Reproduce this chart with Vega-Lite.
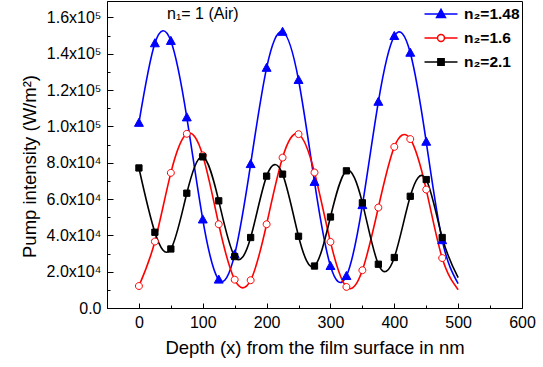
{
  "$schema": "https://vega.github.io/schema/vega-lite/v6.json",
  "width": 415,
  "height": 307,
  "autosize": "none",
  "padding": {"left": 107, "top": 1, "right": 21, "bottom": 59},
  "background": "white",
  "config": {
    "view": {"stroke": "black", "strokeWidth": 1},
    "font": "Liberation Sans",
    "axis": {"grid": false, "domainColor": "black", "tickColor": "black", "labelColor": "black", "titleColor": "black", "titleFontWeight": "normal", "labelFont": "Liberation Sans", "titleFont": "Liberation Sans", "labelOverlap": false}
  },
  "resolve": {"axis": {"x": "independent", "y": "independent"}},
  "datasets": {
    "d": [
      {"s": "1.48", "x": 0, "y": 101900, "mk": true},
      {"s": "1.48", "x": 25, "y": 145700, "mk": true},
      {"s": "1.48", "x": 50, "y": 147000, "mk": true},
      {"s": "1.48", "x": 75, "y": 104900, "mk": true},
      {"s": "1.48", "x": 100, "y": 48700, "mk": true},
      {"s": "1.48", "x": 125, "y": 15600, "mk": true},
      {"s": "1.48", "x": 150, "y": 29500, "mk": true},
      {"s": "1.48", "x": 175, "y": 79200, "mk": true},
      {"s": "1.48", "x": 200, "y": 132200, "mk": true},
      {"s": "1.48", "x": 225, "y": 152000, "mk": true},
      {"s": "1.48", "x": 250, "y": 125500, "mk": true},
      {"s": "1.48", "x": 275, "y": 69400, "mk": true},
      {"s": "1.48", "x": 300, "y": 23100, "mk": true},
      {"s": "1.48", "x": 325, "y": 17600, "mk": true},
      {"s": "1.48", "x": 350, "y": 56600, "mk": true},
      {"s": "1.48", "x": 375, "y": 113500, "mk": true},
      {"s": "1.48", "x": 400, "y": 149700, "mk": true},
      {"s": "1.48", "x": 425, "y": 140500, "mk": true},
      {"s": "1.48", "x": 450, "y": 91500, "mk": true},
      {"s": "1.48", "x": 475, "y": 37300, "mk": true},
      {"s": "1.48", "x": 500, "y": 13400, "mk": false},
      {"s": "1.6", "x": 0, "y": 12100, "mk": true},
      {"s": "1.6", "x": 25, "y": 36600, "mk": true},
      {"s": "1.6", "x": 50, "y": 74400, "mk": true},
      {"s": "1.6", "x": 75, "y": 95900, "mk": true},
      {"s": "1.6", "x": 100, "y": 84000, "mk": true},
      {"s": "1.6", "x": 125, "y": 46100, "mk": true},
      {"s": "1.6", "x": 150, "y": 15600, "mk": true},
      {"s": "1.6", "x": 175, "y": 15300, "mk": true},
      {"s": "1.6", "x": 200, "y": 46100, "mk": true},
      {"s": "1.6", "x": 225, "y": 82800, "mk": true},
      {"s": "1.6", "x": 250, "y": 95700, "mk": true},
      {"s": "1.6", "x": 275, "y": 74600, "mk": true},
      {"s": "1.6", "x": 300, "y": 36400, "mk": true},
      {"s": "1.6", "x": 325, "y": 11600, "mk": true},
      {"s": "1.6", "x": 350, "y": 20800, "mk": true},
      {"s": "1.6", "x": 375, "y": 55300, "mk": true},
      {"s": "1.6", "x": 400, "y": 88700, "mk": true},
      {"s": "1.6", "x": 425, "y": 93000, "mk": true},
      {"s": "1.6", "x": 450, "y": 65200, "mk": true},
      {"s": "1.6", "x": 475, "y": 27500, "mk": true},
      {"s": "1.6", "x": 500, "y": 10100, "mk": false},
      {"s": "2.1", "x": 0, "y": 77100, "mk": true},
      {"s": "2.1", "x": 25, "y": 41700, "mk": true},
      {"s": "2.1", "x": 50, "y": 32500, "mk": true},
      {"s": "2.1", "x": 75, "y": 63200, "mk": true},
      {"s": "2.1", "x": 100, "y": 83200, "mk": true},
      {"s": "2.1", "x": 125, "y": 59000, "mk": true},
      {"s": "2.1", "x": 150, "y": 28300, "mk": true},
      {"s": "2.1", "x": 175, "y": 38800, "mk": true},
      {"s": "2.1", "x": 200, "y": 72600, "mk": true},
      {"s": "2.1", "x": 225, "y": 73700, "mk": true},
      {"s": "2.1", "x": 250, "y": 39500, "mk": true},
      {"s": "2.1", "x": 275, "y": 23100, "mk": true},
      {"s": "2.1", "x": 300, "y": 50100, "mk": true},
      {"s": "2.1", "x": 325, "y": 75500, "mk": true},
      {"s": "2.1", "x": 350, "y": 57900, "mk": true},
      {"s": "2.1", "x": 375, "y": 24100, "mk": true},
      {"s": "2.1", "x": 400, "y": 27800, "mk": true},
      {"s": "2.1", "x": 425, "y": 61500, "mk": true},
      {"s": "2.1", "x": 450, "y": 70700, "mk": true},
      {"s": "2.1", "x": 475, "y": 38800, "mk": true},
      {"s": "2.1", "x": 500, "y": 16700, "mk": false}
    ],
    "note": [{"x": 44, "y": 161800, "t": "n₁= 1 (Air)"}]
  },
  "layer": [
    {
      "data": {"name": "d"},
      "mark": {"type": "line", "interpolate": "natural", "strokeWidth": 1.6},
      "encoding": {
        "x": {
          "field": "x", "type": "quantitative",
          "scale": {"domain": [-50, 600], "nice": false, "zero": false},
          "axis": {
            "orient": "bottom",
            "values": [0, 100, 200, 300, 400, 500, 600],
            "format": "d",
            "tickSize": -5,
            "labelPadding": 11.5,
            "labelFontSize": 16,
            "labelFlush": false,
            "labelOverlap": false,
            "title": "Depth (x) from the film surface in nm",
            "titleFontSize": 18.5,
            "titlePadding": 8
          }
        },
        "y": {
          "field": "y", "type": "quantitative",
          "scale": {"domain": [0, 169000], "nice": false},
          "axis": {
            "orient": "left",
            "values": [0, 20000, 40000, 60000, 80000, 100000, 120000, 140000, 160000],
            "labelExpr": "datum.value === 0 ? '0.0' : (datum.value >= 100000 ? format(datum.value / 100000, '.1f') + 'x10⁵' : format(datum.value / 10000, '.1f') + 'x10⁴')",
            "tickSize": -6,
            "labelPadding": 12,
            "labelFontSize": 16,
            "labelFlush": false,
            "labelOverlap": false,
            "labelBound": false,
            "title": "Pump intensity (W/m²)",
            "titleFontSize": 18.5,
            "titleBaseline": "middle",
            "titleX": -78,
            "titleY": 165
          }
        },
        "color": {
          "field": "s", "type": "nominal",
          "scale": {"domain": ["1.48", "1.6", "2.1"], "range": ["#0000ff", "#ff0000", "#000000"]},
          "legend": {
            "orient": "none", "legendX": 325, "legendY": 4, "title": null, "padding": 0,
            "symbolType": "M-2,0H2", "symbolSize": 272, "symbolStrokeWidth": 1.5,
            "labelExpr": "'n₂=' + datum.label", "labelOpacity": 0,
            "labelFont": "Liberation Sans", "labelFontSize": 15.5, "labelFontWeight": "bold",
            "labelOffset": 14, "rowPadding": 6
          }
        }
      }
    },
    {
      "data": {"name": "d"},
      "transform": [{"filter": "datum.mk"}],
      "mark": {"type": "point", "size": 272, "strokeWidth": 1, "opacity": 1, "fillOpacity": 1, "strokeOpacity": 1},
      "encoding": {
        "x": {"field": "x", "type": "quantitative", "axis": {"orient": "bottom", "values": [50, 150, 250, 350, 450, 550], "tickSize": -3, "labels": false, "domain": false, "title": null, "grid": false}},
        "y": {"field": "y", "type": "quantitative", "axis": {"orient": "left", "values": [10000, 30000, 50000, 70000, 90000, 110000, 130000, 150000], "tickSize": -3, "labels": false, "domain": false, "title": null, "grid": false}},
        "shape": {
          "field": "s", "type": "nominal",
          "scale": {"range": [
            "M0,-0.56L0.54,0.42L-0.54,0.42Z",
            "M-0.42,0A0.42,0.42 0 1,0 0.42,0A0.42,0.42 0 1,0 -0.42,0Z",
            "M-0.38,-0.38H0.38V0.38H-0.38Z"
          ]},
          "legend": {
            "orient": "none", "legendX": 325, "legendY": 4, "title": null, "padding": 0,
            "symbolSize": 272, "symbolStrokeWidth": 1.5, "symbolOpacity": 1,
            "labelExpr": "'n₂=' + datum.label",
            "labelFont": "Liberation Sans", "labelFontSize": 15.5, "labelFontWeight": "bold", "labelColor": "black",
            "labelOffset": 14, "rowPadding": 6
          }
        },
        "stroke": {
          "field": "s", "type": "nominal",
          "scale": {"range": ["#0000ff", "#ff0000", "#000000"]}
        },
        "fill": {
          "field": "s", "type": "nominal",
          "scale": {"range": ["#0000ff", "#ffffff", "#000000"]}
        }
      }
    },
    {
      "data": {"name": "note"},
      "mark": {"type": "text", "align": "left", "baseline": "middle", "fontSize": 16, "font": "Liberation Sans", "color": "black"},
      "encoding": {"x": {"field": "x", "type": "quantitative", "axis": null}, "y": {"field": "y", "type": "quantitative", "axis": null}, "text": {"field": "t"}}
    }
  ]
}
